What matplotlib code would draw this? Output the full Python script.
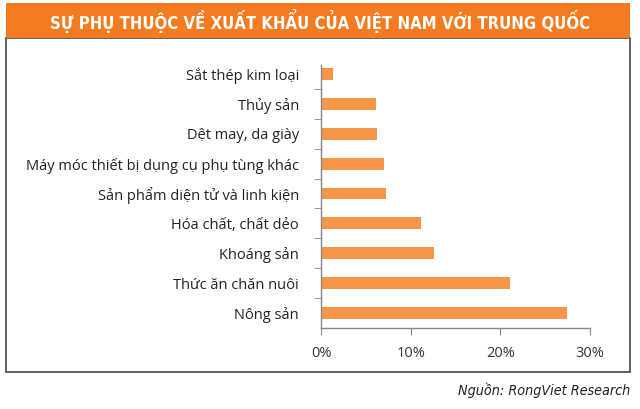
import matplotlib.pyplot as plt
from matplotlib.patches import Rectangle
from matplotlib.ticker import FixedLocator, PercentFormatter

# data (percent)
categories = ['Nông sản', 'Thức ăn chăn nuôi', 'Khoáng sản', 'Hóa chất, chất dẻo',
              'Sản phẩm diện tử và linh kiện', 'Máy móc thiết bị dụng cụ phụ tùng khác',
              'Dệt may, da giày', 'Thủy sản', 'Sắt thép kim loại']
values = [27.4, 21.1, 12.6, 11.2, 7.3, 7.0, 6.3, 6.1, 1.3]
xticks = [0, 10, 20, 30]

title = 'SỰ PHỤ THUỘC VỀ XUẤT KHẨU CỦA VIỆT NAM VỚI TRUNG QUỐC'
source = 'Nguồn: RongViet Research'

plt.rcParams['font.family'] = ['Open Sans', 'DejaVu Sans']

W, H = 640, 409
fig = plt.figure(figsize=(W / 100, H / 100), dpi=100)

# frame and title bar
fig.patches.append(Rectangle((6 / W, 1 - 372 / H), 624 / W, 334 / H, transform=fig.transFigure,
                             fill=False, edgecolor='#555555', linewidth=1.3))
fig.patches.append(Rectangle((6 / W, 1 - 38 / H), 624 / W, 35 / H, transform=fig.transFigure,
                             facecolor='#F47B20', edgecolor='none'))
fig.text(0.5, 1 - 21 / H, title, ha='center', va='center', color='white',
         fontsize=12, fontweight='bold', fontstretch='condensed',
         family=['DejaVu Sans', 'Roboto'])
fig.text(630 / W, 1 - 390 / H, source, ha='right', va='center', color='#222222',
         fontsize=10.3, style='italic', fontstretch='condensed', family=['DejaVu Sans'])

ax = fig.add_axes([321 / W, 1 - 328 / H, 269 / W, 263 / H])
ax.barh(range(len(categories)), values, height=0.4, color='#F79646')
ax.set_xlim(0, 30)
ax.set_ylim(-0.5, 8.3)

for s in ['top', 'right']:
    ax.spines[s].set_visible(False)
for s in ['left', 'bottom']:
    ax.spines[s].set_color('#888888')
    ax.spines[s].set_linewidth(1)

ax.set_xticks(xticks)
ax.xaxis.set_major_formatter(PercentFormatter(decimals=0))
ax.tick_params(axis='x', length=5, color='#888888', pad=8, labelsize=10.5, labelcolor='#333333')

ax.set_yticks(range(len(categories)))
ax.set_yticklabels(categories)
ax.tick_params(axis='y', which='major', length=0, pad=16, labelsize=10.5, labelcolor='#222222')
ax.yaxis.set_minor_locator(FixedLocator([i + 0.5 for i in range(len(categories) - 1)]))
ax.tick_params(axis='y', which='minor', length=5, color='#888888')

fig.savefig('out.png', dpi=100)
